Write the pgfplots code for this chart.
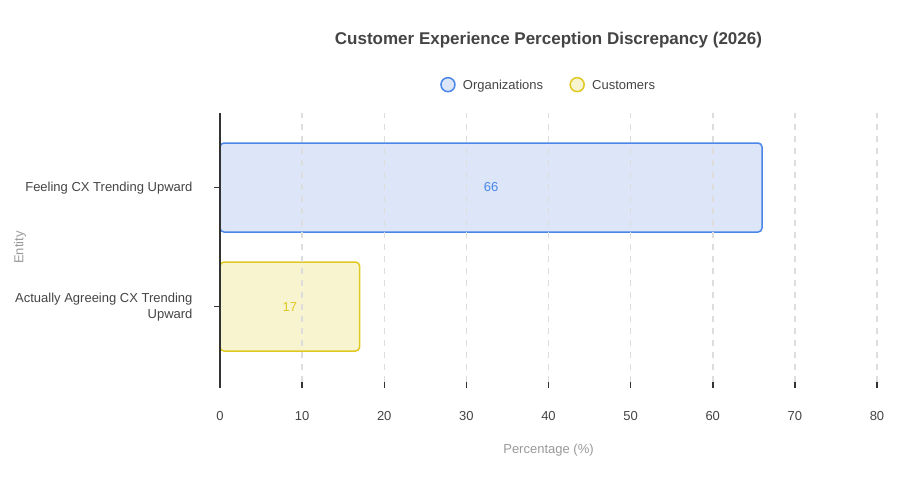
\documentclass[border=0pt]{standalone}
\usepackage{pgfplots}
\pgfplotsset{compat=1.18}
\usepackage{fontspec}
\setmainfont{Liberation Sans}
\definecolor{orgline}{HTML}{4A86E8}
\definecolor{orgfill}{HTML}{DCE6F8}
\definecolor{cusline}{HTML}{E0C822}
\definecolor{cusfill}{HTML}{F8F4D0}
\definecolor{txt}{HTML}{444444}
\definecolor{lbl}{HTML}{999999}
\definecolor{gridc}{HTML}{DDDDDD}
\definecolor{axc}{HTML}{333333}
\pgfplotsset{circlegend/.style={legend image code/.code={\draw[##1, rounded corners=0pt] (0pt,1pt) circle (7pt); \path[draw=none, fill=none] (-8pt,0pt) -- (13pt,0pt);}}}
\begin{document}
\begin{tikzpicture}
\path[use as bounding box] (0,0) rectangle (900pt,483pt);
\begin{axis}[
  at={(220pt,101pt)}, anchor=south west,
  scale only axis, width=657pt, height=269pt,
  xmin=0, xmax=80, ymin=-0.634, ymax=1.626,
  xtick={0,10,...,80}, ytick={0,1},
  yticklabels={{Actually Agreeing CX Trending\\Upward},{Feeling CX Trending Upward}},
  yticklabel style={align=right, font=\fontsize{13}{16}\selectfont, text=txt, xshift=-18pt, yshift=-1pt},
  xticklabel style={font=\fontsize{13}{16}\selectfont, text=txt, yshift=-20pt},
  /pgf/number format/assume math mode=true,
  axis lines*=left,
  x axis line style={draw=none},
  y axis line style={draw=axc, line width=1.5pt},
  tick align=outside, major tick length=6pt,
  tick style={color=axc, line width=1.5pt},
  xmajorgrids,
  major x grid style={gridc, dash pattern=on 6pt off 6pt, line width=1.5pt},
  axis on top,
  xlabel={Percentage (\%)},
  xlabel style={at={(axis description cs:0.5,0)}, yshift=-68pt, anchor=center, text=lbl, font=\fontsize{13}{16}\selectfont},
  ylabel={Entity},
  ylabel style={at={(axis description cs:0,0.5)}, yshift=200pt, anchor=center, text=lbl, font=\fontsize{13}{16}\selectfont},
  title={Customer Experience Perception Discrepancy (2026)},
  title style={at={(axis description cs:0.5,1)}, yshift=67pt, anchor=center, font=\fontsize{17}{20}\selectfont\bfseries, text=txt},
  legend style={at={(axis description cs:0.5,1)}, yshift=28pt, anchor=center, draw=none, fill=none,
    legend columns=2, /tikz/every even column/.append style={column sep=24pt},
    font=\fontsize{13}{16}\selectfont, text=txt},
]
\addplot[xbar, bar width=89pt, bar shift=0pt, draw=orgline, fill=orgfill, line width=1.5pt, rounded corners=4pt, circlegend] coordinates {(66,1)};
\addplot[xbar, bar width=89pt, bar shift=0pt, draw=cusline, fill=cusfill, line width=1.5pt, rounded corners=4pt, circlegend] coordinates {(17,0)};
\legend{Organizations, Customers}
\node[text=orgline, font=\fontsize{13}{16}\selectfont] at (axis cs:33,1) {66};
\node[text=cusline, font=\fontsize{13}{16}\selectfont] at (axis cs:8.5,0) {17};
\end{axis}
\end{tikzpicture}
\end{document}
